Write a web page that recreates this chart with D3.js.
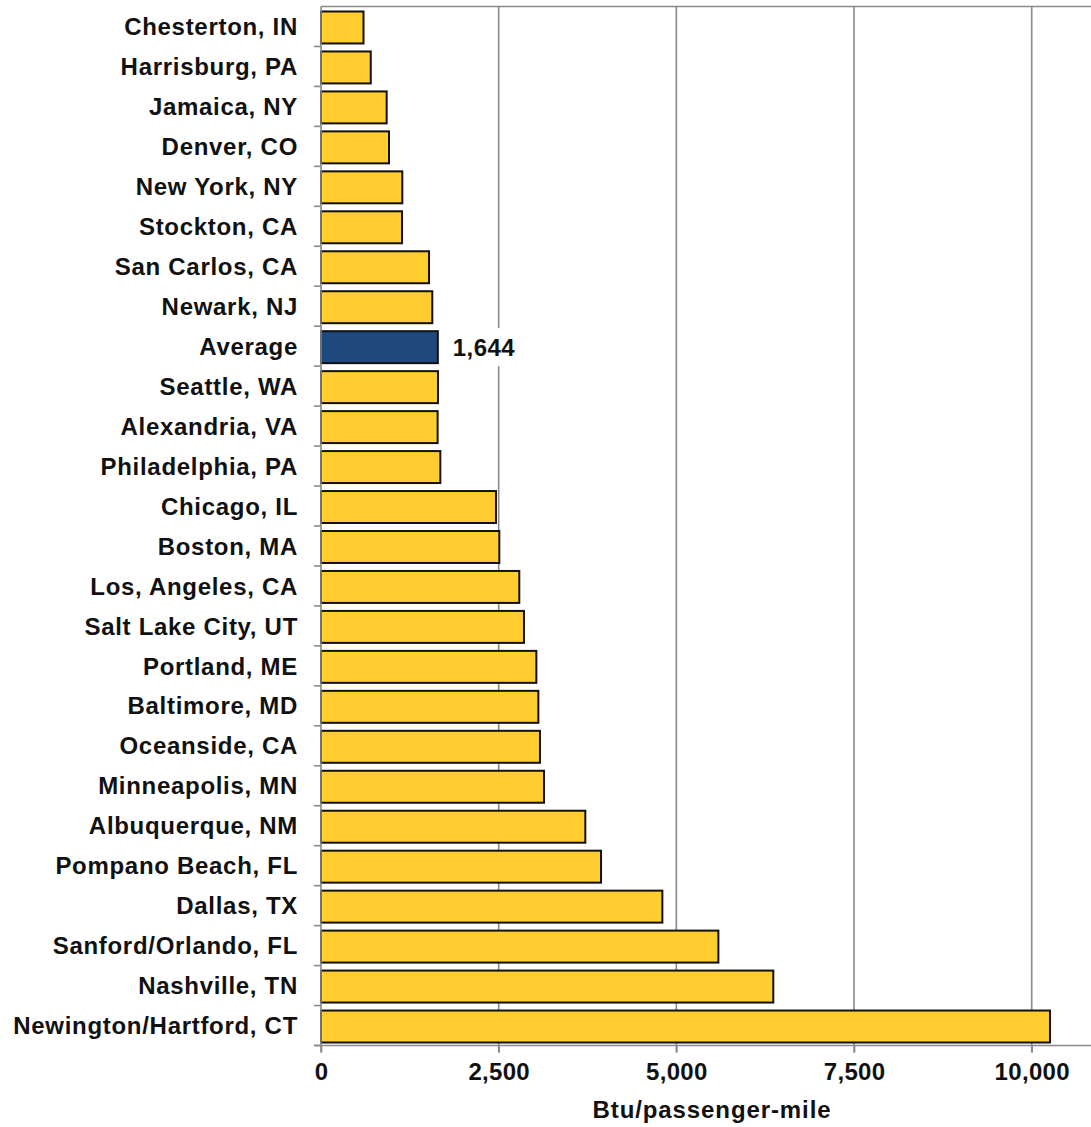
<!DOCTYPE html>
<html>
<head>
<meta charset="utf-8">
<script src="https://cdn.jsdelivr.net/npm/d3@7"></script>
<style>
  html, body { margin: 0; padding: 0; background: #fff; }
  svg text { font-family: "Liberation Sans", Arial, sans-serif; font-weight: bold; fill: #111; }
</style>
</head>
<body>
<svg id="chart" width="1091" height="1127"></svg>
<script>
const categories = [
  "Chesterton, IN", "Harrisburg, PA", "Jamaica, NY", "Denver, CO", "New York, NY",
  "Stockton, CA", "San Carlos, CA", "Newark, NJ", "Average", "Seattle, WA",
  "Alexandria, VA", "Philadelphia, PA", "Chicago, IL", "Boston, MA", "Los, Angeles, CA",
  "Salt Lake City, UT", "Portland, ME", "Baltimore, MD", "Oceanside, CA", "Minneapolis, MN",
  "Albuquerque, NM", "Pompano Beach, FL", "Dallas, TX", "Sanford/Orlando, FL", "Nashville, TN",
  "Newington/Hartford, CT"
];
const values = [
  598, 700, 924, 957, 1144,
  1140, 1520, 1566, 1644, 1646,
  1641, 1679, 2462, 2509, 2790,
  2856, 3030, 3058, 3081, 3138,
  3719, 3940, 4803, 5591, 6364,
  10257
];
const highlighted = ["Average"];
const tickValues = [0, 2500, 5000, 7500, 10000];
const axisTitle = "Btu/passenger-mile";

const svg = d3.select("#chart");
const mLeft = 321, mRight = 1091, mTop = 6.5, mBottom = 1045.5;

const x = d3.scaleLinear().domain([0, 10834]).range([mLeft, mRight]);
const y = d3.scaleBand().domain(categories).range([mTop, mBottom]).paddingInner(0.2).paddingOuter(0.1);

// gridlines
svg.append("g").selectAll("line").data(tickValues.filter(d => d > 0)).join("line")
  .attr("x1", d => x(d)).attr("x2", d => x(d))
  .attr("y1", mTop).attr("y2", mBottom + 7)
  .attr("stroke", "#8a8a8a").attr("stroke-width", 1.6);

// top border
svg.append("line").attr("x1", mLeft).attr("x2", mRight).attr("y1", mTop).attr("y2", mTop)
  .attr("stroke", "#8a8a8a").attr("stroke-width", 1.6);

// bars
svg.append("g").selectAll("rect").data(categories).join("rect")
  .attr("x", x(0))
  .attr("y", d => y(d) + 1)
  .attr("width", (d, i) => x(values[i]) - x(0))
  .attr("height", y.bandwidth())
  .attr("fill", d => highlighted.includes(d) ? "#1F497D" : "#FFCD2E")
  .attr("stroke", "#111").attr("stroke-width", 2);

// value label for Average
categories.forEach((c, i) => {
  if (highlighted.includes(c)) {
    const cy = y(c) + y.bandwidth() / 2 + 1;
    svg.append("rect").attr("x", x(values[i]) + 12).attr("y", cy - 19)
      .attr("width", 80).attr("height", 38).attr("fill", "#fff");
    svg.append("text").attr("x", x(values[i]) + 15).attr("y", cy)
      .attr("dominant-baseline", "central")
      .style("font-size", "24px").style("letter-spacing", "0.4px")
      .text(d3.format(",")(values[i]));
  }
});

// left axis (category)
const yAxis = d3.axisLeft(y).tickSize(0).tickPadding(23);
const gy = svg.append("g").attr("transform", `translate(${mLeft},0)`).call(yAxis);
gy.select(".domain").remove();
gy.selectAll("text").style("font-size", "24px").style("letter-spacing", "0.7px")
  .attr("dy", "0.36em");
// left axis line & ticks between bands
svg.append("line").attr("x1", mLeft).attr("x2", mLeft).attr("y1", mTop).attr("y2", mBottom + 7)
  .attr("stroke", "#8a8a8a").attr("stroke-width", 1.6);
const bounds = d3.range(categories.length + 1).map(i => mTop + i * y.step());
svg.append("g").selectAll("line").data(bounds.slice(1)).join("line")
  .attr("x1", mLeft - 7).attr("x2", mLeft).attr("y1", d => d).attr("y2", d => d)
  .attr("stroke", "#8a8a8a").attr("stroke-width", 1.6);

// bottom axis
const xAxis = d3.axisBottom(x).tickValues(tickValues).tickFormat(d3.format(",")).tickSize(7).tickPadding(10);
const gx = svg.append("g").attr("transform", `translate(0,${mBottom})`).call(xAxis);
gx.select(".domain").attr("stroke", "#8a8a8a").attr("stroke-width", 1.6)
  .attr("d", `M${mLeft - 7},0H${mRight}`);
gx.selectAll(".tick line").attr("stroke", "#8a8a8a").attr("stroke-width", 1.6);
gx.selectAll("text").style("font-size", "24px").style("letter-spacing", "0.3px").attr("fill", "#111");

// axis title (centred across the plot area)
svg.append("text").attr("x", d3.mean(x.range()) + 6).attr("y", 1118)
  .attr("text-anchor", "middle")
  .style("font-size", "24px").style("letter-spacing", "0.9px")
  .text(axisTitle);
</script>
</body>
</html>
